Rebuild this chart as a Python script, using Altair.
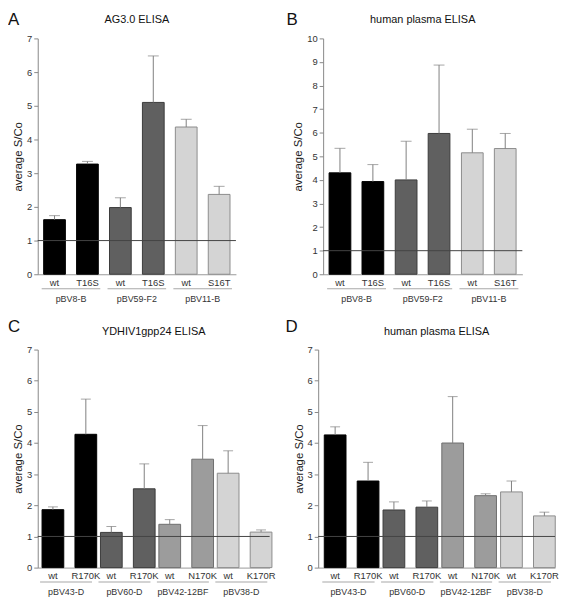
import altair as alt
import pandas as pd

letters = ["A", "B", "C", "D"]
titles = ["AG3.0 ELISA", "human plasma ELISA", "YDHIV1gpp24 ELISA", "human plasma ELISA"]
y_title = "average S/Co"
cutoff = [1]

groups_top = ["pBV8-B", "pBV8-B", "pBV59-F2", "pBV59-F2", "pBV11-B", "pBV11-B"]
variants_top = ["wt", "T16S", "wt", "T16S", "wt", "S16T"]
shades_top = ["black", "black", "dark", "dark", "light", "light"]

a_mean = [1.62, 3.27, 1.98, 5.10, 4.37, 2.37]
a_upper = [1.74, 3.35, 2.27, 6.48, 4.60, 2.61]
b_mean = [4.30, 3.93, 4.00, 5.97, 5.15, 5.33]
b_upper = [5.34, 4.65, 5.64, 8.87, 6.15, 5.97]

groups_bot = ["pBV43-D", "pBV43-D", "pBV60-D", "pBV60-D",
              "pBV42-12BF", "pBV42-12BF", "pBV38-D", "pBV38-D"]
variants_bot = ["wt", "R170K", "wt", "R170K", "wt", "N170K", "wt", "K170R"]
shades_bot = ["black", "black", "dark", "dark", "mid", "mid", "light", "light"]

c_mean = [1.86, 4.28, 1.13, 2.53, 1.39, 3.48, 3.03, 1.14]
c_upper = [1.95, 5.41, 1.32, 3.33, 1.54, 4.56, 3.75, 1.21]
d_mean = [4.26, 2.78, 1.85, 1.94, 4.00, 2.31, 2.43, 1.66]
d_upper = [4.52, 3.38, 2.11, 2.14, 5.49, 2.37, 2.78, 1.78]

shade_names = ["black", "dark", "mid", "light"]
shade_fill = ["#000000", "#606060", "#9c9c9c", "#d4d4d4"]
shade_stroke = ["#000000", "#3c3c3c", "#6e6e6e", "#8c8c8c"]

ERR = "#808080"
TXT = "#333333"


def panel(letter, title, groups, variants, shades, means, uppers, ymax,
          W, H, go, letter_dx, letter_top, title_dy, cap):
    order = list(dict.fromkeys(groups))
    df = pd.DataFrame({
        "group": groups,
        "pos": [i % 2 for i in range(len(groups))],
        "variant": variants,
        "shade": shades,
        "mean": means,
        "upper": uppers,
    })
    X = alt.X("group:N", sort=order,
              scale=alt.Scale(paddingInner=0.11, paddingOuter=go),
              axis=alt.Axis(title=None, labelAngle=0, ticks=False, tickSize=0,
                            labelPadding=20, labelFontSize=9, labelColor=TXT,
                            domainColor="#999999", labelBaseline="top"))
    XO = alt.XOffset("pos:O", scale=alt.Scale(paddingInner=0.34, paddingOuter=0.06))
    yscale = alt.Scale(domain=[0, ymax], nice=False)
    yaxis = alt.Axis(values=list(range(ymax + 1)), grid=False, tickSize=4,
                     tickColor="#888888", domainColor="#888888",
                     labelPadding=2, labelFontSize=9.5, labelColor=TXT,
                     titleFontSize=11.5, titleFontWeight="normal",
                     titleColor="#222222", titlePadding=3)

    def Y(field):
        return alt.Y(field, title=y_title, scale=yscale, axis=yaxis)

    base = alt.Chart(df)
    bars = base.mark_bar(strokeWidth=1).encode(
        x=X, xOffset=XO, y=Y("mean:Q"),
        color=alt.Color("shade:N", scale=alt.Scale(domain=shade_names, range=shade_fill), legend=None),
        stroke=alt.Stroke("shade:N", scale=alt.Scale(domain=shade_names, range=shade_stroke), legend=None),
    )
    whisk = base.mark_rule(color=ERR, strokeWidth=1).encode(
        x=X, xOffset=XO, y=Y("mean:Q"), y2="upper:Q")
    caps = base.mark_tick(color=ERR, thickness=1, size=cap).encode(
        x=X, xOffset=XO, y=Y("upper:Q"))
    ref = alt.Chart(pd.DataFrame({"c": cutoff})).mark_rule(
        color="#444444", strokeWidth=1).encode(y=Y("c:Q"))
    vlab = base.mark_text(fontSize=9.5, baseline="middle", color=TXT).encode(
        x=X, xOffset=XO, y=alt.value(H + 9), text="variant:N")
    brk = alt.Chart(pd.DataFrame({"group": order})).mark_bar(color="#a8a8a8").encode(
        x=X, y=alt.value(H + 14), y2=alt.value(H + 15))
    lab = pd.DataFrame({"letter": [letter], "title": [title]})
    let = alt.Chart(lab).mark_text(fontSize=17, align="left", baseline="top",
                                   color="#111111").encode(
        x=alt.value(letter_dx), y=alt.value(letter_top), text="letter:N")
    ttl = alt.Chart(lab).mark_text(fontSize=11, align="center", baseline="alphabetic",
                                   color="#111111").encode(
        x=alt.value(W / 2), y=alt.value(title_dy), text="title:N")
    return alt.layer(bars, ref, whisk, caps, vlab, brk, let, ttl).properties(
        width=W, height=H)


pa = panel(letters[0], titles[0], groups_top, variants_top, shades_top, a_mean, a_upper,
           7, 200, 238, 0.06, -30, -27, -16, 11)
pb = panel(letters[1], titles[1], groups_top, variants_top, shades_top, b_mean, b_upper,
           10, 201, 238, 0.06, -37, -27, -16, 11)
pc = panel(letters[2], titles[2], groups_bot, variants_bot, shades_bot, c_mean, c_upper,
           7, 234, 220, 0.04, -30, -31, -15, 10)
pd_ = panel(letters[3], titles[3], groups_bot, variants_bot, shades_bot, d_mean, d_upper,
            7, 239, 220, 0.07, -33, -31, -15, 10)

row1 = alt.hconcat(pa, pb, spacing=50)
row2 = alt.hconcat(pc, pd_, spacing=10)

chart = alt.vconcat(row1, row2, spacing=15).properties(padding=0).configure(
    font="Liberation Sans").configure_view(stroke=None)

chart.save("out.html", embed_options={"renderer": "svg", "actions": False})
